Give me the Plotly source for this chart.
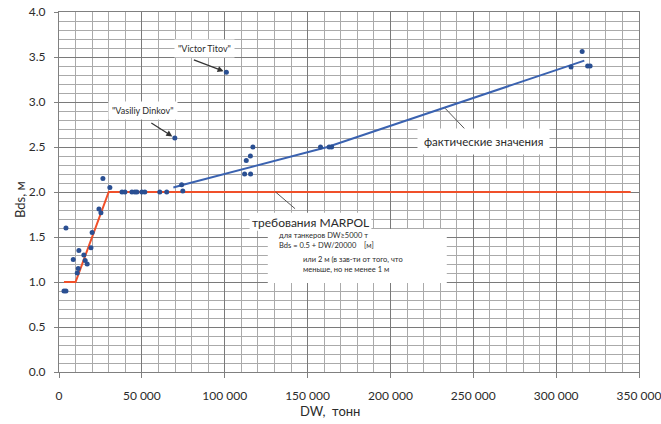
import plotly.graph_objects as go

# ---- data ----
dw_small = [3000, 4200, 4200, 8600, 11000, 11600, 12000, 15000, 15800, 17000,
            19300, 20000, 24100, 25300, 26500, 30700]
bds_small = [0.90, 0.90, 1.60, 1.25, 1.10, 1.15, 1.35, 1.30, 1.24, 1.20,
             1.38, 1.55, 1.81, 1.77, 2.15, 2.05]
dw_mid = [38000, 39800, 44000, 45800, 47000, 50000, 51800, 60800, 65000,
          69900, 74000, 74700, 101000]
bds_mid = [2.00, 2.00, 2.00, 2.00, 2.00, 2.00, 2.00, 2.00, 2.00,
           2.60, 2.08, 2.01, 3.33]
dw_big = [112000, 113000, 115500, 115600, 117000, 157800, 163000, 164500,
          309000, 315700, 319000, 320500]
bds_big = [2.20, 2.35, 2.40, 2.20, 2.50, 2.50, 2.50, 2.50,
           3.39, 3.56, 3.40, 3.40]

trend_dw = [69000, 75000, 162000, 317000]
trend_bds = [2.05, 2.08, 2.50, 3.46]

marpol_dw = [3000, 10000, 30000, 345000]
marpol_bds = [1.0, 1.0, 2.0, 2.0]

x_ticks = [0, 50000, 100000, 150000, 200000, 250000, 300000, 350000]
y_ticks = [0.0, 0.5, 1.0, 1.5, 2.0, 2.5, 3.0, 3.5, 4.0]

FONT = "Lato"
TXT = "#2b2b2b"

fig = go.Figure()
fig.add_trace(go.Scatter(x=marpol_dw, y=marpol_bds, mode="lines",
                         line=dict(color="#f0502a", width=2), hoverinfo="skip"))
fig.add_trace(go.Scatter(x=trend_dw, y=trend_bds, mode="lines",
                         line=dict(color="#3a62b0", width=2), hoverinfo="skip"))
fig.add_trace(go.Scatter(x=dw_small + dw_mid + dw_big,
                         y=bds_small + bds_mid + bds_big, mode="markers",
                         marker=dict(color="#2a4f92", size=5)))

# white background panels behind the MARPOL notes
fig.add_shape(type="rect", x0=115000, x1=188500, y0=1.57, y1=1.77,
              fillcolor="white", line_width=0, layer="between")
fig.add_shape(type="rect", x0=126000, x1=234000, y0=0.99, y1=1.59,
              fillcolor="white", line_width=0, layer="between")

ann = []
# Victor Titov
ann.append(dict(x=101000, y=3.33, ax=-34, ay=-13, text="", showarrow=True,
                arrowhead=2, arrowsize=1, arrowwidth=1.2, arrowcolor="#333",
                standoff=3))
ann.append(dict(x=88000, y=3.6, text='"Victor Titov"', showarrow=False,
                font=dict(size=9, color=TXT, family=FONT), bgcolor="white",
                borderpad=3))
# Vasiliy Dinkov
ann.append(dict(x=69900, y=2.60, ax=-25, ay=-16, text="", showarrow=True,
                arrowhead=2, arrowsize=1, arrowwidth=1.2, arrowcolor="#333",
                standoff=3))
ann.append(dict(x=50500, y=2.91, text='"Vasiliy Dinkov"', showarrow=False,
                font=dict(size=9, color=TXT, family=FONT), bgcolor="white",
                borderpad=3))
# фактические значения
ann.append(dict(x=233000, y=2.93, ax=21, ay=22, text="", showarrow=True,
                arrowhead=0, arrowwidth=1, arrowcolor="#555"))
ann.append(dict(x=256000, y=2.56, text="фактические значения", showarrow=False,
                font=dict(size=11.5, color=TXT, family=FONT), bgcolor="white",
                borderpad=6))
# требования MARPOL
ann.append(dict(x=130700, y=2.0, ax=21, ay=18, text="", showarrow=True,
                arrowhead=0, arrowwidth=1, arrowcolor="#555"))
ann.append(dict(x=115500, y=1.66, text="требования MARPOL", showarrow=False,
                xanchor="left", font=dict(size=12, color=TXT, family=FONT)))
ann.append(dict(x=131500, y=1.46, text="для танкеров DW≥5000 т<br>Bds = 0.5 + DW/20000    [м]",
                showarrow=False, xanchor="left", align="left",
                font=dict(size=7.5, color=TXT, family=FONT)))
ann.append(dict(x=146000, y=1.2, text="или 2 м (в зав-ти от того, что<br>меньше, но не менее 1 м",
                showarrow=False, xanchor="left", align="left",
                font=dict(size=7.5, color=TXT, family=FONT)))
# axis titles
ann.append(dict(xref="paper", yref="paper", x=(330 - 59) / 580, y=0, yshift=-39,
                xanchor="center", yanchor="middle",
                text="DW,  тонн", showarrow=False,
                font=dict(size=13, color=TXT, family=FONT)))
ann.append(dict(xref="paper", yref="paper", x=0, xshift=-39, y=(372 - 200) / 360,
                xanchor="center", yanchor="middle",
                text="Bds, м", textangle=-90, showarrow=False,
                font=dict(size=13, color=TXT, family=FONT)))

fig.update_layout(
    width=661, height=424,
    margin=dict(l=59, r=22, t=12, b=52, autoexpand=False),
    paper_bgcolor="white", plot_bgcolor="white",
    showlegend=False, separators=". ",
    annotations=ann,
    font=dict(family=FONT, color=TXT),
)
fig.update_xaxes(
    range=[0, 350000.5], tickvals=x_ticks, tickformat=",d",
    showgrid=True, gridcolor="#7a7a7a", gridwidth=1.4,
    minor=dict(dtick=10000, showgrid=True, gridcolor="#aaaaaa", gridwidth=1),
    showline=True, linecolor="#808080", mirror=True,
    ticks="outside", ticklen=5, tickcolor="#808080",
    ticklabelstandoff=8, ticklabeloverflow="allow", automargin=False,
    tickfont=dict(size=12, color=TXT, family=FONT), zeroline=False,
)
fig.update_yaxes(
    range=[0, 4.0], tickvals=y_ticks, tickformat=".1f",
    showgrid=True, gridcolor="#7a7a7a", gridwidth=1.4,
    minor=dict(dtick=0.1, showgrid=True, gridcolor="#aaaaaa", gridwidth=1),
    showline=True, linecolor="#808080", mirror=True,
    ticks="outside", ticklen=4, tickcolor="#808080",
    ticklabelstandoff=6, ticklabeloverflow="allow", automargin=False,
    tickfont=dict(size=12, color=TXT, family=FONT), zeroline=False,
)

fig.write_html("out.html")
